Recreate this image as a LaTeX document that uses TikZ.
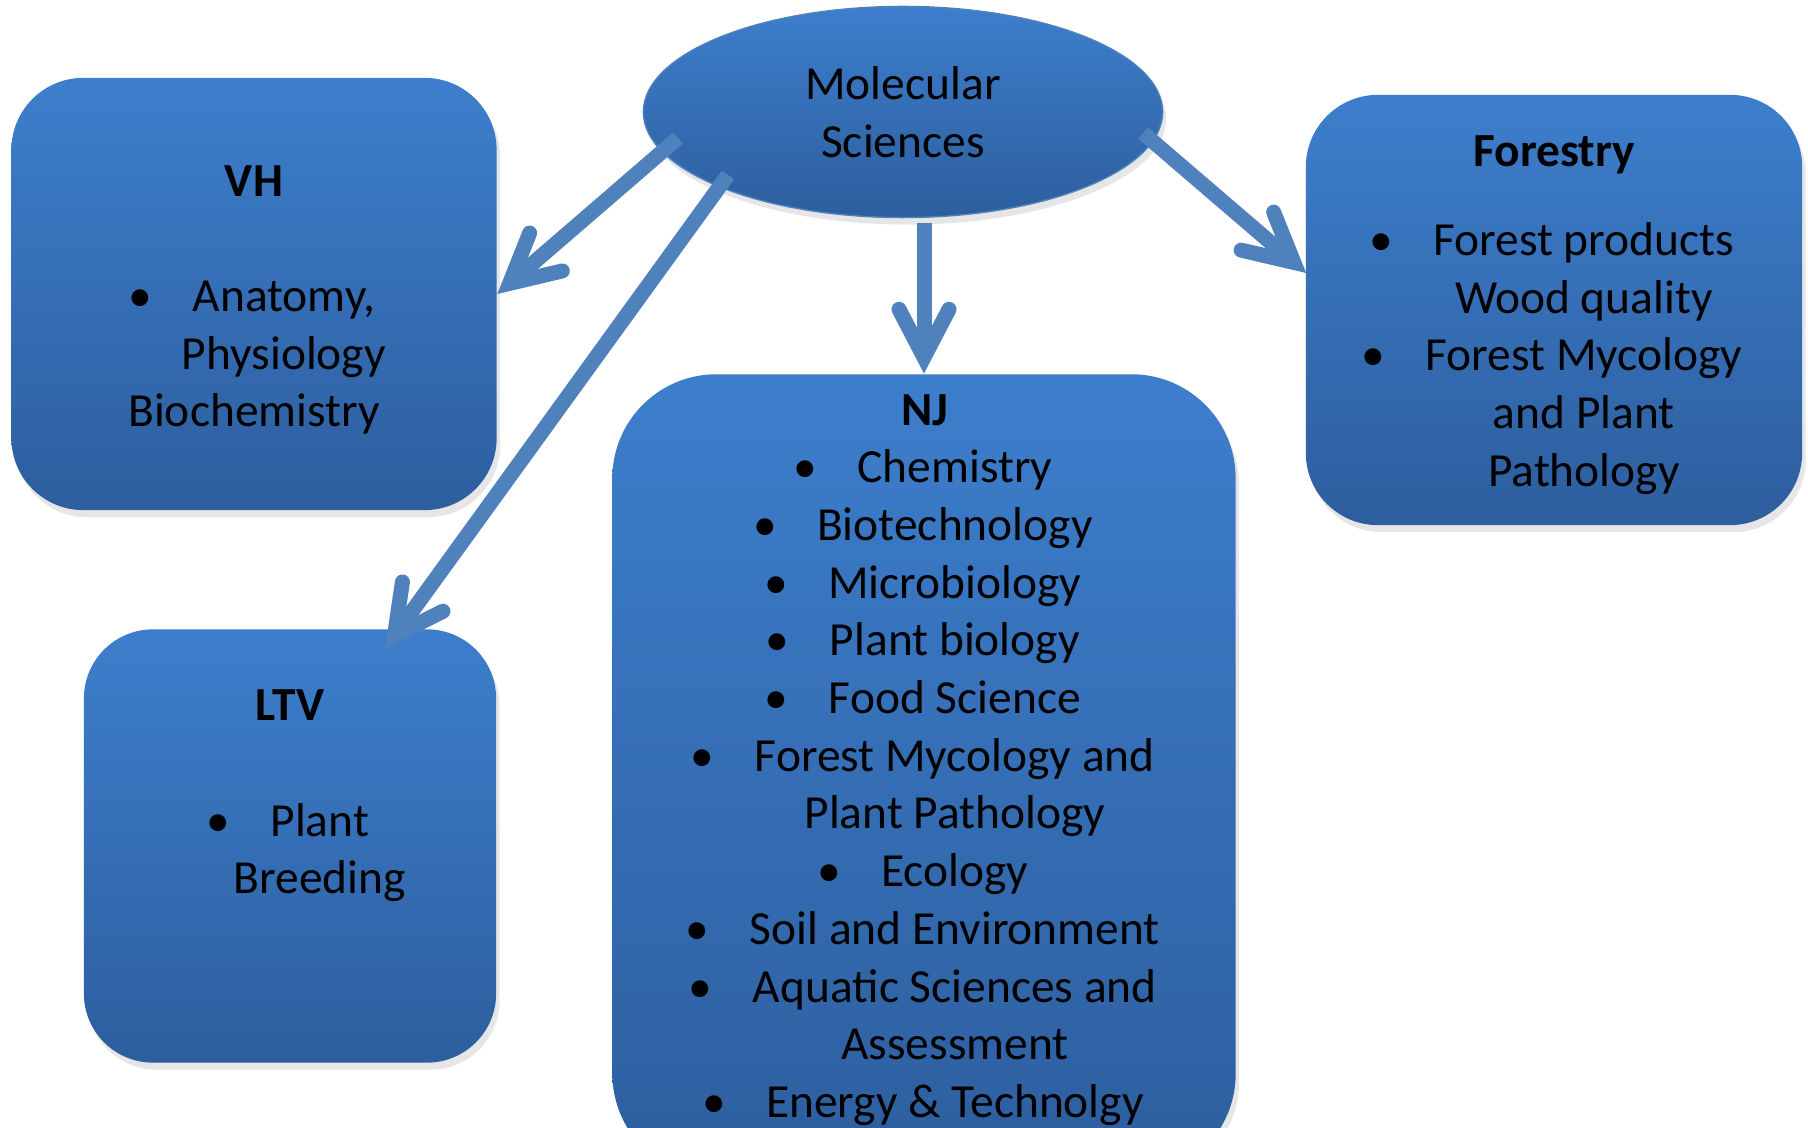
\documentclass[tikz,border=0pt]{standalone}
\usepackage{fontspec}
\setmainfont{Carlito}
\usetikzlibrary{arrows.meta,calc,shadows,shapes.geometric}

\definecolor{boxtop}{RGB}{61,126,204}
\definecolor{boxbot}{RGB}{45,94,158}
\definecolor{arrowblue}{RGB}{79,129,189}

% bullet item and continuation line (hanging indent)
\newcommand{\itm}{\hspace*{17pt}\llap{\textbullet\hspace{11.5pt}}}
\newcommand{\ind}{\hspace*{17pt}}

\begin{document}
\begin{tikzpicture}[x=0.01cm,y=-0.01cm,
  every node/.style={font=\fontsize{13.5}{16.4}\selectfont},
  topic/.style={rectangle,top color=boxtop,bottom color=boxbot,inner sep=0pt,
    drop shadow={shadow xshift=1pt,shadow yshift=-2pt,opacity=0.2}},
  txt/.style={align=center,inner sep=0pt},
  link/.style={draw=arrowblue,line width=0.15cm,
    -{Straight Barb[length=0.48cm,width=0.5cm,line cap=round,line join=miter]}}]
  \useasboundingbox (0,0) rectangle (1808,1128);
  \clip (0,0) rectangle (1808,1128);

  % hub
  \node[ellipse,top color=boxtop,bottom color=boxbot,draw=arrowblue,thin,
    minimum width=5.19cm,minimum height=2.11cm,inner sep=0pt,align=center,
    drop shadow={shadow xshift=1pt,shadow yshift=-2pt,opacity=0.2}]
    (mol) at (903,112) {Molecular\\Sciences};

  % groups
  \node[topic,rounded corners=0.72cm,minimum width=4.85cm,minimum height=4.32cm] (vh) at (254,294) {};
  \node[topic,rounded corners=0.69cm,minimum width=4.12cm,minimum height=4.33cm] (ltv) at (290,846) {};
  \node[topic,rounded corners=1.04cm,minimum width=6.23cm,minimum height=8.03cm] (nj) at (924,776) {};
  \node[topic,rounded corners=0.72cm,minimum width=4.96cm,minimum height=4.30cm] (fo) at (1554,310) {};

  \node[txt] (vh-txt) at (254,300) {\textbf{VH}\\[16.4pt]\itm Anatomy,\\\ind Physiology\\Biochemistry};
  \node[txt] (ltv-txt) at (290,796) {\textbf{LTV}\\[16.4pt]\itm Plant\\\ind Breeding};
  \node[txt] (nj-txt) at (925,760) {\textbf{NJ}\\\itm Chemistry\\\itm Biotechnology\\\itm Microbiology\\
    \itm Plant biology\\\itm Food Science\\\itm Forest Mycology and\\\ind Plant Pathology\\
    \itm Ecology\\\itm Soil and Environment\\\itm Aquatic Sciences and\\\ind Assessment\\
    \itm Energy \& Technolgy};
  \node[txt] (fo-txt) at (1554,315) {\textbf{Forestry}\\[8.9pt]\itm Forest products\\\ind Wood quality\\
    \itm Forest Mycology\\\ind and Plant\\\ind Pathology};

  % arrows out of the hub
  \draw[link] ($(mol.center)+(-225,26)$) -- (vh.east);
  \draw[link] ($(mol.center)+(-175,63)$) -- ($(ltv.north)+(95,20)$);
  \draw[link] ($(nj.north |- mol.south)+(0,5)$) -- (nj.north);
  \draw[link] ($(mol.center)+(240,21)$) -- ($(fo.west)+(1,-37)$);
\end{tikzpicture}
\end{document}
